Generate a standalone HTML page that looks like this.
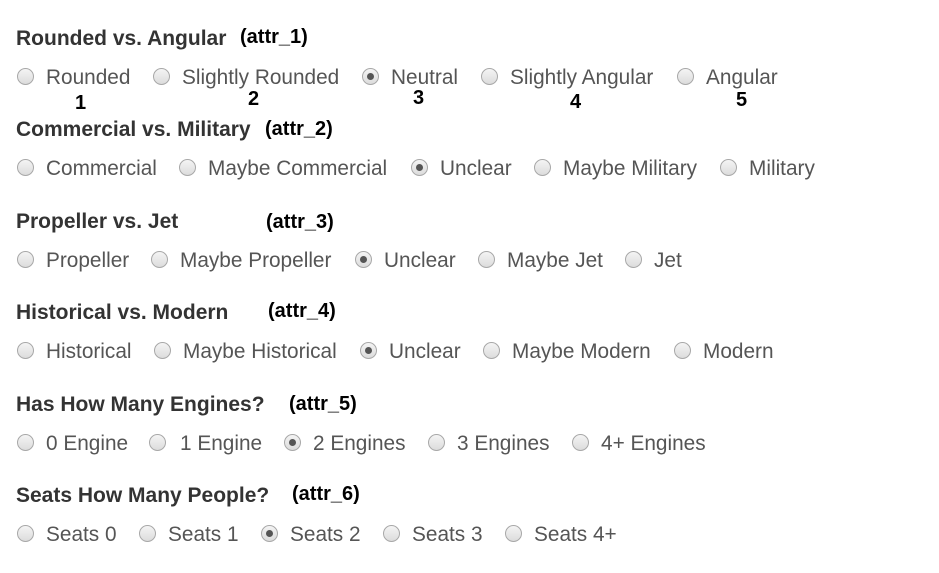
<!DOCTYPE html>
<html><head><meta charset="utf-8"><style>
body{margin:0;width:939px;height:573px;background:#fff;position:relative;overflow:hidden;font-family:"Liberation Sans",Arial,sans-serif}
.h{position:absolute;font-weight:bold;font-size:21px;color:#333;line-height:24px;white-space:nowrap}
.a{position:absolute;font-weight:bold;font-size:20px;color:#000;line-height:24px;white-space:nowrap}
.o{position:absolute;font-size:20.8px;color:#555;line-height:24px;white-space:nowrap}
.r{position:absolute;width:15px;height:15px;border:1px solid #a8a8a8;border-radius:50%;background:linear-gradient(#f4f4f4,#dcdcdc);box-sizing:content-box}
.r.c::after{content:"";position:absolute;left:4px;top:4px;width:7px;height:7px;border-radius:50%;background:#555}
</style></head><body>
<div class="h" style="left:16px;top:27px">Rounded vs. Angular</div><div class="a" style="left:240px;top:25px">(attr_1)</div>
<div class="h" style="left:16px;top:118px">Commercial vs. Military</div><div class="a" style="left:265px;top:117px">(attr_2)</div>
<div class="h" style="left:16px;top:210px">Propeller vs. Jet</div><div class="a" style="left:266px;top:210px">(attr_3)</div>
<div class="h" style="left:16px;top:301px">Historical vs. Modern</div><div class="a" style="left:268px;top:299px">(attr_4)</div>
<div class="h" style="left:16px;top:393px">Has How Many Engines?</div><div class="a" style="left:289px;top:392px">(attr_5)</div>
<div class="h" style="left:16px;top:484px">Seats How Many People?</div><div class="a" style="left:292px;top:482px">(attr_6)</div>
<div class="a" style="left:75px;top:91px">1</div><div class="a" style="left:248px;top:87px">2</div><div class="a" style="left:413px;top:86px">3</div><div class="a" style="left:570px;top:90px">4</div><div class="a" style="left:736px;top:88px">5</div>
<script>
var rows=[[77,[[25,46,"Rounded"],[161,182,"Slightly Rounded"],[370,391,"Neutral",1],[489,510,"Slightly Angular"],[685,706,"Angular"]]],
[168,[[25,46,"Commercial"],[187,208,"Maybe Commercial"],[419,440,"Unclear",1],[542,563,"Maybe Military"],[728,749,"Military"]]],
[260,[[25,46,"Propeller"],[159,180,"Maybe Propeller"],[363,384,"Unclear",1],[486,507,"Maybe Jet"],[633,654,"Jet"]]],
[351,[[25,46,"Historical"],[162,183,"Maybe Historical"],[368,389,"Unclear",1],[491,512,"Maybe Modern"],[682,703,"Modern"]]],
[443,[[25,46,"0 Engine"],[157,180,"1 Engine"],[292,313,"2 Engines",1],[436,457,"3 Engines"],[580,601,"4+ Engines"]]],
[534,[[25,46,"Seats 0"],[147,168,"Seats 1"],[269,290,"Seats 2",1],[391,412,"Seats 3"],[513,534,"Seats 4+"]]]];
var h="";rows.forEach(function(r){var y=r[0];r[1].forEach(function(o){h+='<div class="r'+(o[3]?' c':'')+'" style="left:'+(o[0]-8)+'px;top:'+(y-9)+'px"></div><div class="o" style="left:'+o[1]+'px;top:'+(y-11)+'px">'+o[2]+'</div>';});});
document.body.insertAdjacentHTML("beforeend",h);
</script>
</body></html>
